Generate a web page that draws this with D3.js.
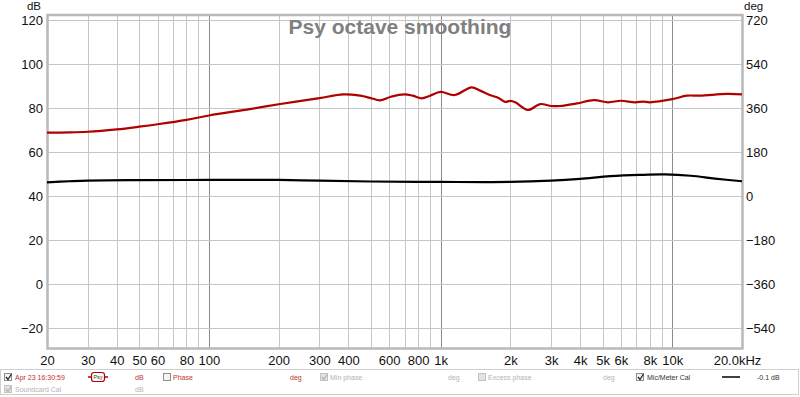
<!DOCTYPE html>
<html>
<head>
<meta charset="utf-8">
<script src="https://cdn.jsdelivr.net/npm/d3@7"></script>
<style>
  html, body { margin: 0; padding: 0; background: #fff; }
  svg { display: block; font-family: "Liberation Sans", Arial, sans-serif; }
</style>
</head>
<body>
<div id="viz"></div>
<script>

var redFreq = [20, 25, 30, 40, 50, 60, 80, 100, 150, 200, 300, 380, 450, 500, 547, 610, 695, 760, 830, 900,
	1000, 1150, 1360, 1480, 1630, 1770, 1900, 2000, 2100, 2380, 2690, 3000, 3270, 3880, 4590, 5280, 6000,
	6900, 7470, 8000, 10000, 11560, 13160, 17220, 20000];
var redDb = [68.8, 68.9, 69.2, 70.3, 71.5, 72.6, 74.6, 76.6, 79.5, 81.7, 84.5, 86.2, 85.6, 84.5, 83.5, 85.1, 86.2, 85.6, 84.4, 85.6,
	87.3, 85.9, 89.4, 87.9, 85.9, 84.7, 82.8, 83.2, 82.6, 79.1, 81.8, 80.9, 80.9, 82.1, 83.6, 82.6, 83.3,
	82.6, 82.9, 82.6, 84.0, 85.6, 85.6, 86.4, 86.2];

// mic/meter cal curve
var calFreq = [20, 25, 30, 50, 100, 200, 300, 500, 1000, 2000, 3000, 4000, 5400, 7250, 9300, 12000, 15300, 20000];
var calDb = [46.2, 46.7, 47.0, 47.2, 47.3, 47.3, 47.0, 46.6, 46.4, 46.4, 47.0, 47.8, 49.0, 49.6, 49.8, 49.2, 47.9, 46.7];

var xTicks = [20, 30, 40, 50, 60, 80, 100, 200, 300, 400, 600, 800, 1000, 2000, 3000, 4000, 5000, 6000, 8000, 10000, 20000];
var xTickLabels = ["20", "30", "40", "50", "60", "80", "100", "200", "300", "400", "600", "800", "1k", "2k", "3k", "4k", "5k", "6k", "8k", "10k", "20.0kHz"];
var yTicks = [-20, 0, 20, 40, 60, 80, 100, 120];
var degTicks = [-540, -360, -180, 0, 180, 360, 540, 720];

var width = 800, height = 397;

var svg = d3.select("#viz")
	.append("svg")
	.attr("width", width)
	.attr("height", height);

var x = d3.scaleLog().domain([20, 20000]).range([47, 742]);
var y = d3.scaleLinear().domain([-29.5, 122.5]).range([348.9, 14.5]);
// phase axis sits on the same grid: 0 deg at 40 dB, 180 deg per 20 dB
var yDeg = d3.scaleLinear().domain([-29.5 * 9 - 360, 122.5 * 9 - 360]).range([348.9, 14.5]);

var plot = svg.append("g");

// vertical grid, every 1-2-3..9 of each decade
var gridFreqs = [];
[10, 100, 1000, 10000].forEach(d => {
	for (var k = 1; k < 10; k++) {
		var f = d * k;
		if (f > 20 && f < 20000) gridFreqs.push(f);
	}
});

plot.selectAll("line.vgrid")
	.data(gridFreqs)
	.enter()
	.append("line")
	.attr("class", "vgrid")
	.attr("x1", d => Math.round(x(d)) + 0.5)
	.attr("x2", d => Math.round(x(d)) + 0.5)
	.attr("y1", y.range()[1])
	.attr("y2", y.range()[0])
	.attr("stroke", d => [100, 1000, 10000].indexOf(d) >= 0 ? "#8a8a8a" : "#c6c6c6")
	.attr("stroke-width", 1);

plot.selectAll("line.hgrid")
	.data(yTicks)
	.enter()
	.append("line")
	.attr("class", "hgrid")
	.attr("x1", x.range()[0])
	.attr("x2", x.range()[1])
	.attr("y1", d => Math.round(y(d)) + 0.5)
	.attr("y2", d => Math.round(y(d)) + 0.5)
	.attr("stroke", "#c6c6c6");

// frame
plot.append("rect")
	.attr("x", 47.5)
	.attr("y", 15)
	.attr("width", 695)
	.attr("height", 333.5)
	.attr("fill", "none")
	.attr("stroke", "#b9b9b9")
	.attr("stroke-width", 2.5);

// axes
var xAxis = d3.axisBottom(x)
	.tickValues(xTicks)
	.tickFormat((d, i) => xTickLabels[i])
	.tickSize(0)
	.tickPadding(0);

var gx = svg.append("g")
	.attr("transform", "translate(0,356)")
	.call(xAxis);
gx.select(".domain").remove();
gx.selectAll("text")
	.attr("dy", "0.71em")
	.attr("font-size", 13)
	.attr("fill", "#111")
	.attr("font-family", "'Liberation Sans', Arial, sans-serif")
	.filter(d => d == 20000)
	.attr("dx", -5);

var gy = svg.append("g")
	.attr("transform", "translate(43,0)")
	.call(d3.axisLeft(y).tickValues(yTicks).tickSize(0).tickPadding(0));
gy.select(".domain").remove();
gy.selectAll("text")
	.attr("font-size", 13)
	.attr("fill", "#111")
	.attr("font-family", "'Liberation Sans', Arial, sans-serif");

var gr = svg.append("g")
	.attr("transform", "translate(746,0)")
	.call(d3.axisRight(yDeg).tickValues(degTicks).tickSize(0).tickPadding(0));
gr.select(".domain").remove();
gr.selectAll("text")
	.attr("font-size", 13)
	.attr("fill", "#111")
	.attr("font-family", "'Liberation Sans', Arial, sans-serif");

svg.append("text").attr("x", 41).attr("y", 9.5).attr("text-anchor", "end")
	.attr("font-size", 11.5).attr("fill", "#111").text("dB");
svg.append("text").attr("x", 744).attr("y", 9.5)
	.attr("font-size", 11.5).attr("fill", "#111").text("deg");

// title
svg.append("text")
	.attr("x", 400)
	.attr("y", 34)
	.attr("text-anchor", "middle")
	.attr("font-size", 21)
	.attr("font-weight", "bold")
	.attr("fill", "#808080")
	.text("Psy octave smoothing");

// curves
var line = d3.line()
	.x(d => x(d[0]))
	.y(d => y(d[1]))
	.curve(d3.curveCatmullRom.alpha(0.5));

plot.append("path")
	.datum(calFreq.map((f, i) => [f, calDb[i]]))
	.attr("d", line)
	.attr("fill", "none")
	.attr("stroke", "#000")
	.attr("stroke-width", 2.2);

plot.append("path")
	.datum(redFreq.map((f, i) => [f, redDb[i]]))
	.attr("d", line)
	.attr("fill", "none")
	.attr("stroke", "#b00000")
	.attr("stroke-width", 2.2);

// legend
var leg = svg.append("g").attr("font-size", 7);

leg.append("rect")
	.attr("x", 0.5).attr("y", 369.5)
	.attr("width", 798).attr("height", 25)
	.attr("fill", "#fff")
	.attr("stroke", "#cfcfcf");

function checkbox(cx, cy, checked, enabled) {
	leg.append("rect")
		.attr("x", cx + 0.5).attr("y", cy - 3.5)
		.attr("width", 7).attr("height", 7)
		.attr("fill", enabled ? "#f4f4f4" : "#e2e2e2")
		.attr("stroke", enabled ? "#8e8e8e" : "#c4c4c4");
	if (checked) {
		leg.append("path")
			.attr("d", "M" + (cx + 2) + "," + (cy) + " l2,2.5 l3.5,-5.5")
			.attr("fill", "none")
			.attr("stroke", enabled ? "#222" : "#b4b4b4")
			.attr("stroke-width", 1.3);
	}
}

function label(lx, ly, txt, col, weight) {
	leg.append("text")
		.attr("x", lx).attr("y", ly + 2.5)
		.attr("fill", col)
		.attr("font-weight", weight || "normal")
		.text(txt);
}

var r1 = 377, r2 = 389;
checkbox(4, r1, true, true);
label(15, r1, "Apr 23 16:30:59", "#c43030");
leg.append("line").attr("x1", 88).attr("x2", 108).attr("y1", r1).attr("y2", r1)
	.attr("stroke", "#b00000").attr("stroke-width", 1.5);
leg.append("rect").attr("x", 91.5).attr("y", r1 - 4.5).attr("width", 13).attr("height", 9).attr("rx", 2.5)
	.attr("fill", "#fff").attr("stroke", "#b00000").attr("stroke-width", 1.2);
leg.append("text").attr("x", 98).attr("y", r1 + 2).attr("text-anchor", "middle")
	.attr("font-size", 5.5).attr("fill", "#333").text("Psy");
label(135, r1, "dB", "#c43030");
checkbox(163, r1, false, true);
label(173, r1, "Phase", "#c43030");
label(290, r1, "deg", "#c43030");
checkbox(320, r1, true, false);
label(330, r1, "Min phase", "#b4b4b4");
label(448, r1, "deg", "#b4b4b4");
checkbox(478, r1, false, false);
label(488, r1, "Excess phase", "#b4b4b4");
label(603, r1, "deg", "#b4b4b4");
checkbox(636, r1, true, true);
label(647, r1, "Mic/Meter Cal", "#333");
leg.append("line").attr("x1", 722).attr("x2", 740).attr("y1", r1).attr("y2", r1)
	.attr("stroke", "#000").attr("stroke-width", 1.5);
label(757, r1, "-0.1 dB", "#333");

checkbox(4, r2, true, false);
label(15, r2, "Soundcard Cal", "#b4b4b4");
label(135, r2, "dB", "#b4b4b4");

</script>
</body>
</html>
